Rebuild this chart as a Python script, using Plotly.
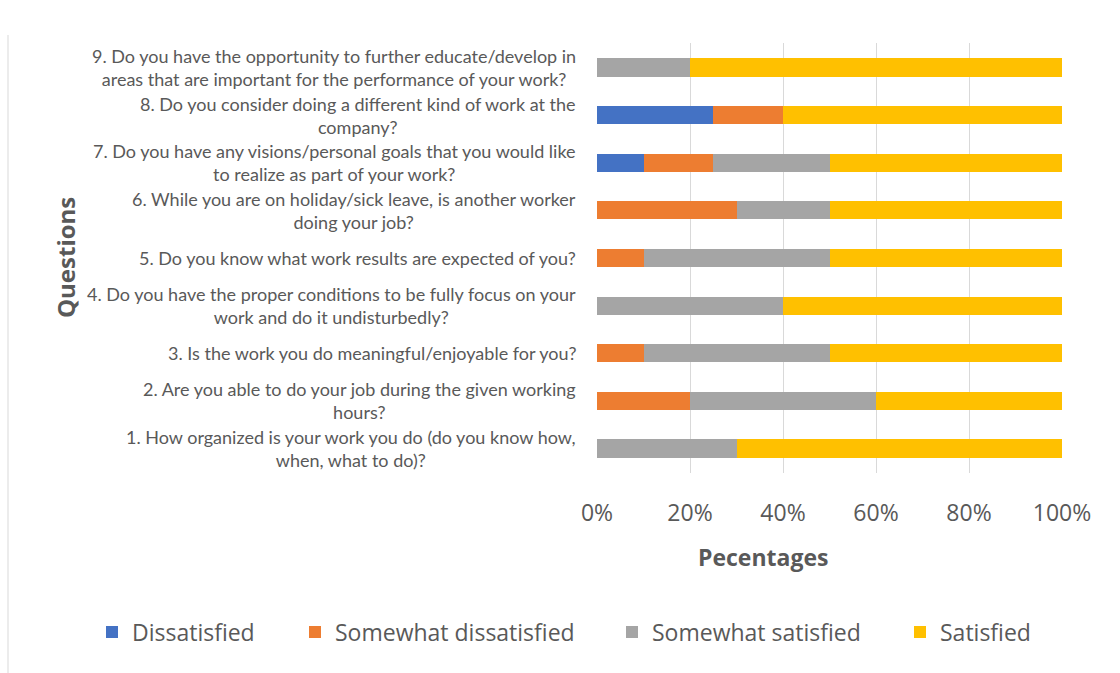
import plotly.graph_objects as go

questions = [
    "1. How organized is your work you do (do you know how,<br>when, what to do)?",
    "2. Are you able to do your job during the given working<br>hours?",
    "3. Is the work you do meaningful/enjoyable for you?",
    "4. Do you have the proper conditions to be fully focus on your<br>work and do it undisturbedly?",
    "5. Do you know what work results are expected of you?",
    "6. While you are on holiday/sick leave, is another worker<br>doing your job?",
    "7. Do you have any visions/personal goals that you would like<br>to realize as part of your work?",
    "8. Do you consider doing a different kind of work at the<br>company?",
    "9. Do you have the opportunity to further educate/develop in<br>areas that are important for the performance of your work?",
]
cats = [f"Q{i+1}" for i in range(len(questions))]

dissatisfied = [0, 0, 0, 0, 0, 0, 10, 25, 0]
somewhat_dissatisfied = [0, 20, 10, 0, 10, 30, 15, 15, 0]
somewhat_satisfied = [30, 40, 40, 40, 40, 20, 25, 0, 20]
satisfied = [70, 40, 50, 60, 50, 50, 50, 60, 80]

tick_vals = [0, 20, 40, 60, 80, 100]
tick_text = ["0%", "20%", "40%", "60%", "80%", "100%"]

series = [
    ("Dissatisfied", dissatisfied, "#4472C4"),
    ("Somewhat dissatisfied", somewhat_dissatisfied, "#ED7D31"),
    ("Somewhat satisfied", somewhat_satisfied, "#A5A5A5"),
    ("Satisfied", satisfied, "#FFC000"),
]

# pixel geometry helpers
L, R, T, B = 597, 1062, 43, 473
def px(x):
    return (x - L) / (R - L)
def py(y):
    return (B - y) / (B - T)

FONT = "Lato"
GRAY = "#595959"

legend_names = ["legend", "legend2", "legend3", "legend4"]
legend_x = [92, 295, 612, 900]

fig = go.Figure()
for (name, vals, col), lg in zip(series, legend_names):
    fig.add_trace(go.Bar(y=cats, x=vals, name=name, orientation="h", legend=lg,
                         marker=dict(color=col, line=dict(width=0))))

annotations = []
for c, q in zip(cats, questions):
    annotations.append(dict(x=px(578), xref="paper", y=c, yref="y", text=q,
                            showarrow=False, xanchor="right", yanchor="middle",
                            align="center",
                            font=dict(family=FONT, size=18, color=GRAY)))
annotations.append(dict(x=px(763), xref="paper", y=py(557), yref="paper",
                        text="<b>Pecentages</b>", showarrow=False,
                        xanchor="center", yanchor="middle",
                        font=dict(family="Open Sans", size=23, color=GRAY)))
annotations.append(dict(x=px(65), xref="paper", y=py(258), yref="paper",
                        text="<b>Questions</b>", showarrow=False, textangle=-90,
                        xanchor="center", yanchor="middle",
                        font=dict(family="Open Sans", size=24, color=GRAY)))

layout_legends = {}
for lg, lx in zip(legend_names, legend_x):
    layout_legends[lg] = dict(orientation="h", x=px(lx), xanchor="left",
                              y=py(632), yanchor="middle",
                              font=dict(family="Open Sans", size=23, color=GRAY),
                              itemwidth=30, bgcolor="rgba(0,0,0,0)")

fig.update_layout(
    width=1120, height=673,
    margin=dict(l=L, r=1120 - R, t=T, b=673 - B),
    barmode="stack", bargap=0.62,
    plot_bgcolor="white", paper_bgcolor="white",
    font=dict(family=FONT, color=GRAY),
    xaxis=dict(range=[0, 100], tickvals=tick_vals, ticktext=tick_text,
               showgrid=True, gridcolor="#D9D9D9", gridwidth=1, zeroline=False,
               showline=False, ticklabelstandoff=24,
               tickfont=dict(family="Open Sans", size=23, color=GRAY)),
    yaxis=dict(showticklabels=False, showgrid=False, zeroline=False, showline=False,
               categoryorder="array", categoryarray=cats),
    showlegend=True,
    annotations=annotations,
    shapes=[dict(type="line", xref="paper", yref="paper",
                 x0=px(8), x1=px(8), y0=py(35), y1=py(673),
                 line=dict(color="#D9D9D9", width=1))],
    **layout_legends,
)

fig.write_html("out.html")
